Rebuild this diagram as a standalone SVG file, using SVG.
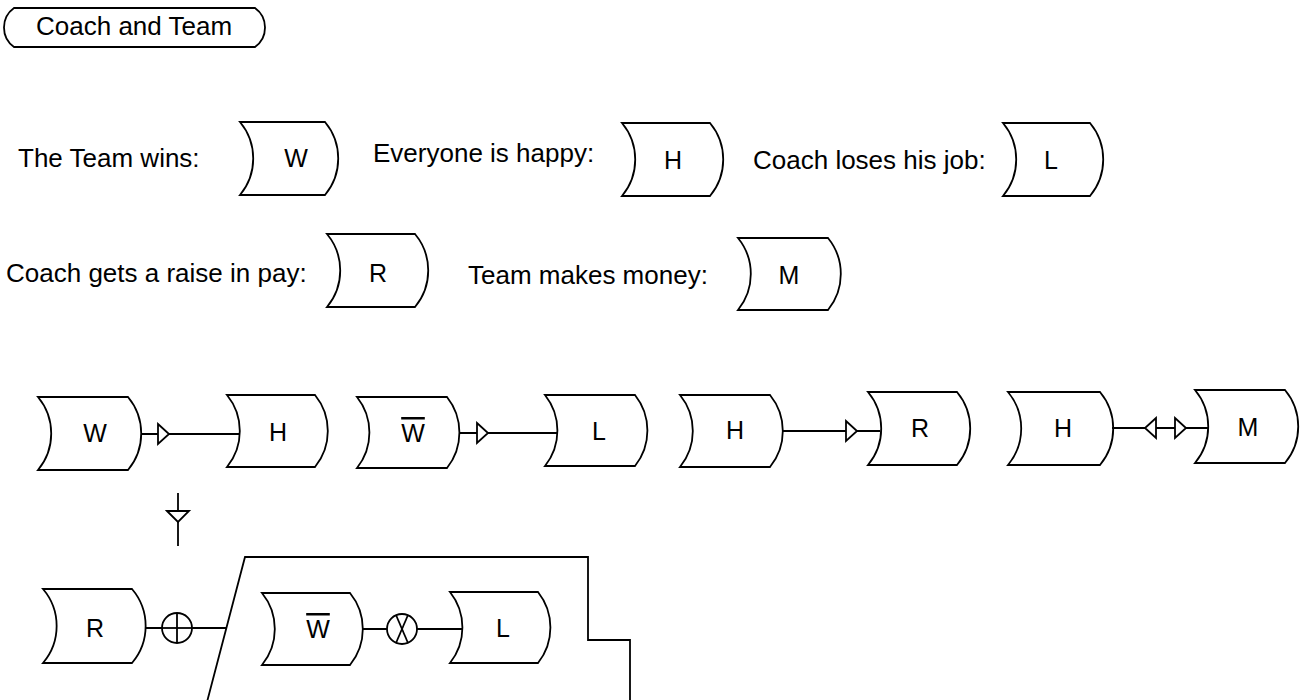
<svg xmlns="http://www.w3.org/2000/svg" width="1305" height="700" viewBox="0 0 1305 700">
<style>
  .shape{fill:#ffffff;stroke:#000000;stroke-width:1.8;}
  .ln{fill:none;stroke:#000000;stroke-width:1.8;}
  .tri{fill:#ffffff;stroke:#000000;stroke-width:1.8;stroke-linejoin:miter;}
  text{font-family:"Liberation Sans",Arial,sans-serif;font-size:25px;fill:#000000;}
  .lab{font-size:26px;}
  .c{text-anchor:middle;}
  .ov{text-decoration:overline;}
</style>
<defs>
  <path id="triR" class="tri" d="M0,-10 L11,0 L0,10 Z"/>
  <path id="triL" class="tri" d="M0,-10 L-11,0 L0,10 Z"/>
  <path id="triD" class="tri" d="M-11,0 L0,11 L11,0 Z"/>
</defs>
<rect width="1305" height="700" fill="#ffffff"/>

<g id="title">
  <path class="shape" d="M14,8 L255,8 A24,24 0 0 1 255,47 L14,47 A24,24 0 0 1 14,8 Z"/>
  <text class="lab" x="36" y="35">Coach and Team</text>
</g>

<g id="legend-labels">
  <text class="lab" x="18" y="167">The Team wins:</text>
  <text class="lab" x="373" y="162">Everyone is happy:</text>
  <text class="lab" x="753" y="169">Coach loses his job:</text>
  <text class="lab" x="6" y="282">Coach gets a raise in pay:</text>
  <text class="lab" x="468" y="284">Team makes money:</text>
</g>

<g id="legend-W">
  <path class="shape" d="M240,122 L325,122 A57,57 0 0 1 325,195 L240,195 A57,57 0 0 0 240,122 Z"/>
  <text class="c" x="296" y="167">W</text>
</g>
<g id="legend-H">
  <path class="shape" d="M622,123 L710,123 A57,57 0 0 1 710,196 L622,196 A57,57 0 0 0 622,123 Z"/>
  <text class="c" x="673" y="169">H</text>
</g>
<g id="legend-L">
  <path class="shape" d="M1003,123 L1090,123 A57,57 0 0 1 1090,196 L1003,196 A57,57 0 0 0 1003,123 Z"/>
  <text class="c" x="1051" y="169">L</text>
</g>
<g id="legend-R">
  <path class="shape" d="M327,234 L415,234 A57,57 0 0 1 415,307 L327,307 A57,57 0 0 0 327,234 Z"/>
  <text class="c" x="378" y="282">R</text>
</g>
<g id="legend-M">
  <path class="shape" d="M738,238 L828,238 A57,57 0 0 1 828,310 L738,310 A57,57 0 0 0 738,238 Z"/>
  <text class="c" x="789" y="284">M</text>
</g>

<g id="n1-W">
  <path class="shape" d="M38,397 L128,397 A57,57 0 0 1 128,470 L38,470 A57,57 0 0 0 38,397 Z"/>
  <text class="c" x="95" y="442">W</text>
</g>
<g id="n1-H">
  <path class="shape" d="M227,395 L315,395 A57,57 0 0 1 315,467 L227,467 A57,57 0 0 0 227,395 Z"/>
  <text class="c" x="278" y="441">H</text>
</g>
<g id="n2-notW">
  <path class="shape" d="M357,397 L447,397 A57,57 0 0 1 447,468 L357,468 A57,57 0 0 0 357,397 Z"/>
  <text class="c ov" x="413" y="442">W</text>
</g>
<g id="n2-L">
  <path class="shape" d="M545,395 L635,395 A57,57 0 0 1 635,466 L545,466 A57,57 0 0 0 545,395 Z"/>
  <text class="c" x="599" y="440">L</text>
</g>
<g id="n3-H">
  <path class="shape" d="M680,395 L770,395 A57,57 0 0 1 770,467 L680,467 A57,57 0 0 0 680,395 Z"/>
  <text class="c" x="735" y="439">H</text>
</g>
<g id="n3-R">
  <path class="shape" d="M868,392 L957,392 A57,57 0 0 1 957,465 L868,465 A57,57 0 0 0 868,392 Z"/>
  <text class="c" x="920" y="437">R</text>
</g>
<g id="n4-H">
  <path class="shape" d="M1008,392 L1100,392 A57,57 0 0 1 1100,465 L1008,465 A57,57 0 0 0 1008,392 Z"/>
  <text class="c" x="1063" y="437">H</text>
</g>
<g id="n4-M">
  <path class="shape" d="M1195,390 L1285,390 A57,57 0 0 1 1285,463 L1195,463 A57,57 0 0 0 1195,390 Z"/>
  <text class="c" x="1248" y="436">M</text>
</g>
<g id="n5-R">
  <path class="shape" d="M43,589 L132,589 A57,57 0 0 1 132,663 L43,663 A57,57 0 0 0 43,589 Z"/>
  <text class="c" x="95" y="637">R</text>
</g>
<g id="n5-notW">
  <path class="shape" d="M262,593 L350,593 A57,57 0 0 1 350,665 L262,665 A57,57 0 0 0 262,593 Z"/>
  <text class="c ov" x="318" y="638">W</text>
</g>
<g id="n5-L">
  <path class="shape" d="M450,592 L538,592 A57,57 0 0 1 538,663 L450,663 A57,57 0 0 0 450,592 Z"/>
  <text class="c" x="503" y="637">L</text>
</g>

<g id="connectors">
  <line class="ln" x1="141" y1="434" x2="240" y2="434"/>
  <use href="#triR" x="158" y="434"/>
  <line class="ln" x1="460" y1="433" x2="558" y2="433"/>
  <use href="#triR" x="477" y="433"/>
  <line class="ln" x1="783" y1="431" x2="880" y2="431"/>
  <use href="#triR" x="846" y="431"/>
  <line class="ln" x1="1112" y1="428" x2="1208" y2="428"/>
  <use href="#triL" x="1156" y="428"/>
  <use href="#triR" x="1175" y="428"/>
  <line class="ln" x1="178" y1="493" x2="178" y2="546"/>
  <use href="#triD" x="178" y="511"/>
  <line class="ln" x1="145" y1="628" x2="227" y2="628"/>
  <circle class="shape" cx="177" cy="628" r="15"/>
  <line class="ln" x1="162" y1="628" x2="192" y2="628"/>
  <line class="ln" x1="177" y1="613" x2="177" y2="643"/>
  <path class="ln" d="M207,702 L245,557 L588,557 L588,640 L630,640 L630,702"/>
  <line class="ln" x1="363" y1="629" x2="463" y2="629"/>
  <circle class="shape" cx="402" cy="629" r="15"/>
  <line class="ln" x1="396" y1="615" x2="408" y2="643"/>
  <line class="ln" x1="408" y1="615" x2="396" y2="643"/>
</g>
</svg>
